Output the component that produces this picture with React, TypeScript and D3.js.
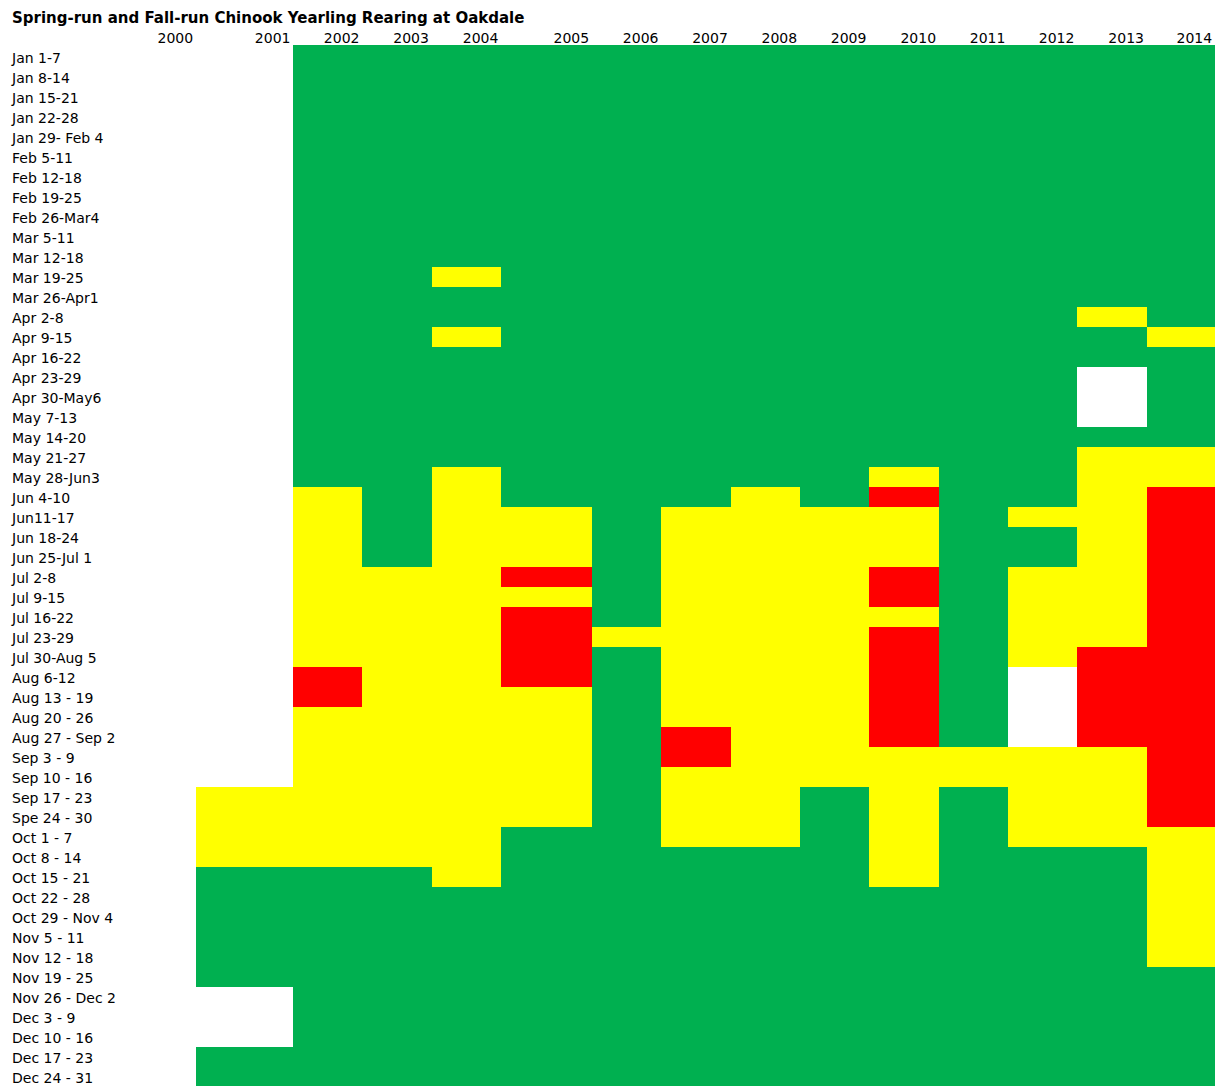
import React from "react";
import * as d3 from "d3";

const title = "Spring-run and Fall-run Chinook Yearling Rearing at Oakdale";

const years = ["2000","2001","2002","2003","2004","2005","2006","2007","2008","2009","2010","2011","2012","2013","2014"];

const weeks = [
  "Jan 1-7","Jan 8-14","Jan 15-21","Jan 22-28","Jan 29- Feb 4","Feb 5-11","Feb 12-18","Feb 19-25","Feb 26-Mar4",
  "Mar 5-11","Mar 12-18","Mar 19-25","Mar 26-Apr1","Apr 2-8","Apr 9-15","Apr 16-22","Apr 23-29","Apr 30-May6",
  "May 7-13","May 14-20","May 21-27","May 28-Jun3","Jun 4-10","Jun11-17","Jun 18-24","Jun 25-Jul 1","Jul 2-8",
  "Jul 9-15","Jul 16-22","Jul 23-29","Jul 30-Aug 5","Aug 6-12","Aug 13 - 19","Aug 20 - 26","Aug 27 - Sep 2",
  "Sep 3 - 9","Sep 10 - 16","Sep 17 - 23","Spe 24 - 30","Oct 1 - 7","Oct 8 - 14","Oct 15 - 21","Oct 22 - 28",
  "Oct 29 - Nov 4","Nov 5 - 11","Nov 12 - 18","Nov 19 - 25","Nov 26 - Dec 2","Dec 3 - 9","Dec 10 - 16",
  "Dec 17 - 23","Dec 24 - 31"
];

// One status code per week (G = green, Y = yellow, R = red, W = no data)
const status2000 = "WWWWWWWWWWWWWWWWWWWWWWWWWWWWWWWWWWWWWWWWWWWWWWWWWWWW";
const status2001 = "WWWWWWWWWWWWWWWWWWWWWWWWWWWWWWWWWWWWWYYYYGGGGGGWWWGG";
const status2002 = "GGGGGGGGGGGGGGGGGGGGGGYYYYYYYYYRRYYYYYYYYGGGGGGGGGGG";
const status2003 = "GGGGGGGGGGGGGGGGGGGGGGGGGGYYYYYYYYYYYYYYYGGGGGGGGGGG";
const status2004 = "GGGGGGGGGGGYGGYGGGGGGYYYYYYYYYYYYYYYYYYYYYGGGGGGGGGG";
const status2005 = "GGGGGGGGGGGGGGGGGGGGGGGYYYRYRRRRYYYYYYYGGGGGGGGGGGGG";
const status2006 = "GGGGGGGGGGGGGGGGGGGGGGGGGGGGGYGGGGGGGGGGGGGGGGGGGGGG";
const status2007 = "GGGGGGGGGGGGGGGGGGGGGGGYYYYYYYYYYYRRYYYYGGGGGGGGGGGG";
const status2008 = "GGGGGGGGGGGGGGGGGGGGGGYYYYYYYYYYYYYYYYYYGGGGGGGGGGGG";
const status2009 = "GGGGGGGGGGGGGGGGGGGGGGGYYYYYYYYYYYYYYGGGGGGGGGGGGGGG";
const status2010 = "GGGGGGGGGGGGGGGGGGGGGYRYYYRRYRRRRRRYYYYYYYGGGGGGGGGG";
const status2011 = "GGGGGGGGGGGGGGGGGGGGGGGGGGGGGGGGGGGYYGGGGGGGGGGGGGGG";
const status2012 = "GGGGGGGGGGGGGGGGGGGGGGGYGGYYYYYWWWWYYYYYGGGGGGGGGGGG";
const status2013 = "GGGGGGGGGGGGGYGGWWWGYYYYYYYYYYRRRRRYYYYYGGGGGGGGGGGG";
const status2014 = "GGGGGGGGGGGGGGYGGGGGYYRRRRRRRRRRRRRRRRRYYYYYYYGGGGGG";

const statusByYear = [
  status2000, status2001, status2002, status2003, status2004, status2005, status2006, status2007,
  status2008, status2009, status2010, status2011, status2012, status2013, status2014
];

const statusColors: Record<string, string> = {
  G: "#00B050",
  Y: "#FFFF00",
  R: "#FF0000",
  W: "#FFFFFF",
};

// Layout (column edges as in the spreadsheet)
const columnEdges = [127, 196, 293.3, 362.3, 431.7, 501.2, 592, 661.3, 730.6, 800, 869.2, 938.9, 1008.2, 1077.2, 1146.8, 1215];
const WIDTH = 1215;
const HEIGHT = 1086;
const ROW_TOP = 46.67;
const ROW_H = 20;

export default function App() {
  const xLeft = d3.scaleOrdinal<string, number>().domain(years).range(columnEdges.slice(0, -1));
  const xRight = d3.scaleOrdinal<string, number>().domain(years).range(columnEdges.slice(1));
  const y = d3.scaleLinear().domain([0, weeks.length]).range([ROW_TOP, ROW_TOP + weeks.length * ROW_H]);

  const cells: { key: string; x: number; y: number; w: number; h: number; fill: string }[] = [];
  years.forEach((yr, ci) => {
    const codes = statusByYear[ci];
    // merge vertical runs of the same code
    let i = 0;
    while (i < weeks.length) {
      const c = codes[i];
      let j = i;
      while (j + 1 < weeks.length && codes[j + 1] === c) j++;
      if (c !== "W") {
        const top = i === 0 ? y(0) - 1.7 : y(i);
        cells.push({
          key: `${yr}-${i}`,
          x: xLeft(yr),
          y: top,
          w: xRight(yr) - xLeft(yr),
          h: y(j + 1) - top,
          fill: statusColors[c],
        });
      }
      i = j + 1;
    }
  });

  return (
    <svg
      width={WIDTH}
      height={HEIGHT}
      style={{ position: "absolute", left: 0, top: 0, background: "#fff" }}
    >
      <rect x={0} y={0} width={WIDTH} height={HEIGHT} fill="#fff" />
      <g shapeRendering="crispEdges">
        {cells.map((c) => (
          <rect key={c.key} x={c.x} y={c.y} width={c.w} height={c.h} fill={c.fill} />
        ))}
      </g>
      <text
        x={12}
        y={22.7}
        fontFamily="'DejaVu Sans', sans-serif"
        fontWeight="bold"
        fontSize={15}
        fill="#000"
      >
        {title}
      </text>
      <g fontFamily="'DejaVu Sans', sans-serif" fontSize={14} fill="#000">
        {years.map((yr) => (
          <text key={yr} x={xRight(yr) - 2.8} y={42.7} textAnchor="end">
            {yr}
          </text>
        ))}
        {weeks.map((w, i) => (
          <text key={w} x={12} y={y(i) + 16.6}>
            {w}
          </text>
        ))}
      </g>
    </svg>
  );
}
